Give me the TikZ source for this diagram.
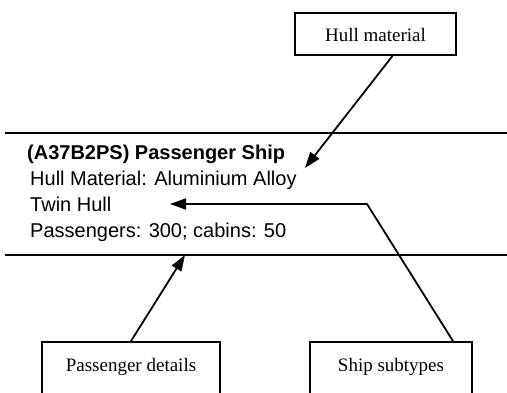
\documentclass[tikz,border=0pt]{standalone}
\usepackage{fontspec}
\setmainfont{Liberation Serif}
\newfontfamily\recfont{Liberation Sans}
\usetikzlibrary{arrows.meta}

\begin{document}
\begin{tikzpicture}[x=1pt,y=1pt,
 tag/.style={draw=black,rectangle,line width=1.8pt,inner sep=0pt,anchor=base,fill=white,font=\fontsize{19}{22}\selectfont},
 entry/.style={anchor=base west,inner sep=0pt,font=\recfont\fontsize{20}{24}\selectfont},
 heading/.style={entry,font=\recfont\bfseries\fontsize{20}{24}\selectfont},
 flow/.style={-{Triangle[length=16pt,width=11pt]},black,line width=1.8pt},
 rule/.style={black,line width=1.8pt}]
\useasboundingbox (0,0) rectangle (507,393);
\clip (0,0) rectangle (507,393);
\draw[rule] (5,260) -- (507,260);
\draw[rule] (5,138) -- (507,138);
\node[heading] (title) at (27,233) {(A37B2PS) Passenger Ship};
\node[entry] (material) at (30,207) {Hull Material: Aluminium Alloy};
\node[entry] (hulltype) at (30,181) {Twin Hull};
\node[entry] (counts) at (30,155) {Passengers: 300; cabins: 50};
\node[tag,minimum width=161pt,text height=29pt,text depth=13pt] (hull) at (375.5,351) {Hull material};
\node[tag,minimum width=178pt,text height=30pt,text depth=40pt] (passenger) at (131,21) {Passenger details};
\node[tag,minimum width=162pt,text height=30pt,text depth=40pt] (subtypes) at (391,21) {Ship subtypes};
\coordinate (materialtip) at (305,225);
\coordinate (bend) at (367,189);
\coordinate (twintip) at (170,189);
\coordinate (countstip) at (185,138);
\draw[flow] ([xshift=17pt]hull.south) -- (materialtip);
\draw[flow] ([xshift=62pt]subtypes.north) -- (bend) -- (twintip);
\draw[flow] (passenger.north) -- (countstip);
\end{tikzpicture}
\end{document}
